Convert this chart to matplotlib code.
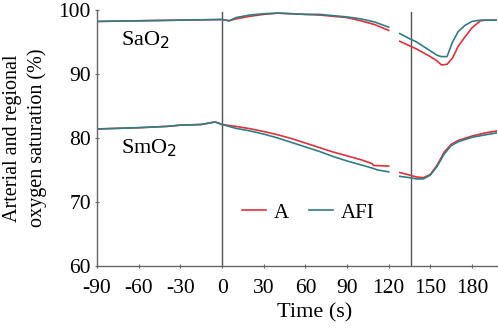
import numpy as np
import matplotlib
matplotlib.use('Agg')
import matplotlib.pyplot as plt

plt.rcParams['font.family'] = ['Liberation Serif', 'DejaVu Serif']
plt.rcParams['axes.unicode_minus'] = False

nan = np.nan

# SaO2 (arterial) traces, NaN marks the gap in the record
sa_time = [-90, -60, -30, 0, 5, 10, 20, 30, 40, 50, 60, 70, 80, 90, 100, 110, 120, nan,
           128, 135, 140, 145, 150, 155, 158, 162, 166, 170, 175, 180, 186, 190, 198]
sa_a = [98.2, 98.3, 98.4, 98.5, 98.3, 98.6, 99.0, 99.3, 99.5, 99.4, 99.3, 99.2, 99.0, 98.8, 98.3, 97.7, 96.8, nan,
        95.1, 94.4, 93.9, 93.3, 92.7, 92.0, 91.4, 91.5, 92.5, 94.3, 95.8, 97.2, 98.3, 98.4, 98.4]
sa_afi = [98.2, 98.3, 98.4, 98.5, 98.3, 98.8, 99.2, 99.4, 99.5, 99.4, 99.3, 99.3, 99.1, 98.9, 98.6, 98.1, 97.3, nan,
          96.3, 95.5, 95.0, 94.3, 93.6, 92.9, 92.7, 92.7, 95.0, 96.6, 97.6, 98.2, 98.4, 98.4, 98.4]

# SmO2 (regional muscle) traces
sm_time_a = [-90, -60, -40, -30, -15, -5, 0, 10, 20, 30, 40, 50, 60, 70, 80, 90, 100, 108, 109, 120, nan,
             128, 135, 140, 145, 150, 155, 160, 165, 170, 180, 190, 198]
sm_a = [81.4, 81.6, 81.8, 82.0, 82.1, 82.5, 82.1, 81.8, 81.45, 81.0, 80.5, 79.9, 79.2, 78.5, 77.8, 77.2, 76.6, 76.0, 75.7, 75.6, nan,
        74.6, 74.2, 73.9, 73.8, 74.3, 75.8, 77.8, 79.0, 79.6, 80.3, 80.8, 81.1]
sm_time_afi = [-90, -60, -40, -30, -15, -5, 0, 10, 20, 30, 40, 50, 60, 70, 80, 90, 100, 108, 112, 120, nan,
               128, 135, 140, 145, 150, 155, 160, 165, 170, 180, 190, 198]
sm_afi = [81.4, 81.6, 81.8, 82.0, 82.1, 82.5, 82.1, 81.5, 81.1, 80.6, 80.0, 79.3, 78.6, 77.9, 77.1, 76.4, 75.8, 75.3, 75.0, 74.7, nan,
          74.0, 73.8, 73.6, 73.6, 74.2, 75.6, 77.5, 78.8, 79.4, 80.1, 80.5, 80.8]

events = [0, 136]
xticks = [-90, -60, -30, 0, 30, 60, 90, 120, 150, 180]
yticks = [60, 70, 80, 90, 100]

red = '#e0303c'
teal = '#2f7f82'

fig = plt.figure(figsize=(4.98, 3.30), dpi=100)
ax = fig.add_axes((0.195, 0.194, 0.803, 0.776))

for x in events:
    ax.plot([x, x], [60, 99.6], color='#555555', lw=1.0, zorder=1)

ax.plot(sa_time, sa_a, color=red, lw=1.2, label='A')
ax.plot(sa_time, sa_afi, color=teal, lw=1.2, label='AFI')
ax.plot(sm_time_a, sm_a, color=red, lw=1.2)
ax.plot(sm_time_afi, sm_afi, color=teal, lw=1.2)

ax.text(-73, 95.2, 'SaO$_2$', fontsize=16, va='center', ha='left')
ax.text(-73, 78.4, 'SmO$_2$', fontsize=16, va='center', ha='left')

ax.set_xlim(-90, 198)
ax.set_ylim(60, 100)
ax.set_xticks(xticks)
ax.set_yticks(yticks)
ax.tick_params(labelsize=15.5, length=3, direction='inout', color='#666666')
ax.tick_params(axis='x', pad=8)
ax.tick_params(axis='y', pad=3)
for s in ['top', 'right']:
    ax.spines[s].set_visible(False)
for s in ['left', 'bottom']:
    ax.spines[s].set_color('#666666')
    ax.spines[s].set_linewidth(1.0)

ax.set_xlabel('Time (s)', fontsize=16)
ax.xaxis.set_label_coords(0.545, -0.145)
ax.set_ylabel('Arterial and regional\noxygen saturation (%)', fontsize=14.5, linespacing=1.35)
ax.yaxis.set_label_coords(-0.125, 0.5)

ax.legend(loc='center left', bbox_to_anchor=(0.3625, 0.207), ncol=2, frameon=False,
          fontsize=15, handlelength=1.15, columnspacing=1.0, handletextpad=0.35,
          borderaxespad=0, borderpad=0)

fig.savefig('out.png', dpi=100)
